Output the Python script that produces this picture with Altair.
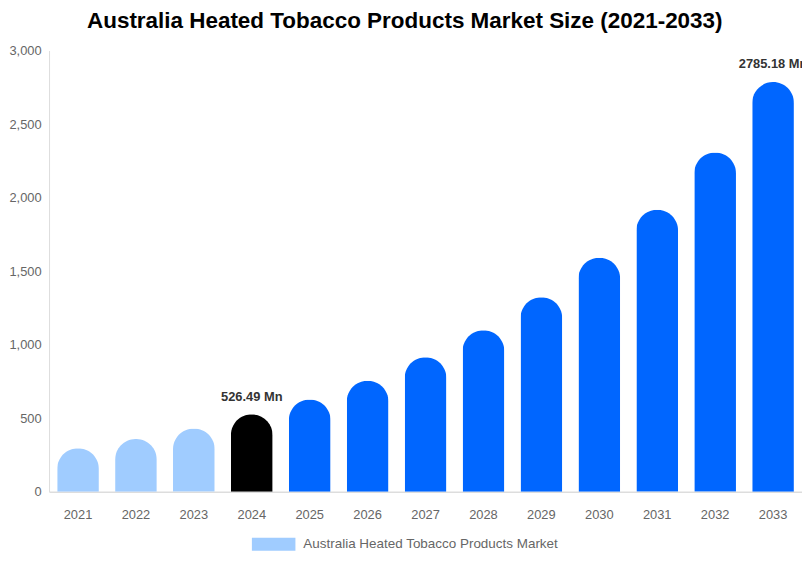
import altair as alt
import pandas as pd

years = ["2021", "2022", "2023", "2024", "2025", "2026", "2027",
         "2028", "2029", "2030", "2031", "2032", "2033"]
values = [296, 359, 430, 526.49, 628, 755, 915, 1098, 1323, 1592, 1917, 2307, 2785.18]
labels = ["", "", "", "526.49 Mn", "", "", "", "", "", "", "", "", "2785.18 Mn"]
series_name = "Australia Heated Tobacco Products Market"

df = pd.DataFrame({"year": years, "value": values, "label": labels,
                   "series": [series_name] * len(years)})

FONT = "Liberation Sans"

x = alt.X("year:N", sort=years, title=None,
          scale=alt.Scale(paddingInner=0.28, paddingOuter=0.14),
          axis=alt.Axis(labelAngle=0, ticks=False, labelPadding=17, labelFontSize=13,
                        labelColor="#666666", labelFont=FONT, domainColor="#dddddd",
                        domainWidth=1.5))
y = alt.Y("value:Q", title=None,
          scale=alt.Scale(domain=[0, 3000], nice=False),
          axis=alt.Axis(values=[0, 500, 1000, 1500, 2000, 2500, 3000], format=",d",
                        grid=False, ticks=False, labelPadding=8, labelFontSize=13,
                        labelColor="#666666", labelFont=FONT, domainColor="#dddddd"))

bars = alt.Chart(df).mark_bar(cornerRadiusTopLeft=21, cornerRadiusTopRight=21).encode(
    x=x,
    y=y,
    color=alt.Color(
        "series:N",
        scale=alt.Scale(domain=[series_name], range=["#a0ccff"]),
        legend=alt.Legend(title=None, orient="none", legendX=205, legendY=477,
                          symbolType="M-1,-0.3H1V0.3H-1Z", symbolSize=1936,
                          symbolStrokeWidth=0, labelFontSize=13.6, labelColor="#666666",
                          labelFont=FONT, labelOffset=8, labelLimit=0),
        condition=[
            {"test": "datum.year == '2024'", "value": "#000000"},
            {"test": "datum.year > '2024'", "value": "#0066ff"},
        ],
    ),
)

text = alt.Chart(df).transform_filter("datum.label != ''").mark_text(
    baseline="bottom", dy=-11, fontSize=13, fontWeight="bold", color="#333333", font=FONT
).encode(x=alt.X("year:N", sort=years), y=alt.Y("value:Q"), text="label:N")

chart = alt.layer(bars, text).properties(
    width=761,
    height=446,
    autosize=alt.AutoSizeParams(type="none"),
    padding={"left": 41.5, "top": 40, "right": 0, "bottom": 70},
    title=alt.TitleParams(
        "Australia Heated Tobacco Products Market Size (2021-2033)",
        fontSize=22.7, font=FONT, fontWeight="bold", color="#000000",
        anchor="middle", baseline="bottom", offset=16, dx=-21, dy=27,
    ),
).configure_view(stroke=None)

chart.save("out.html", embed_options={"renderer": "svg", "actions": False})
